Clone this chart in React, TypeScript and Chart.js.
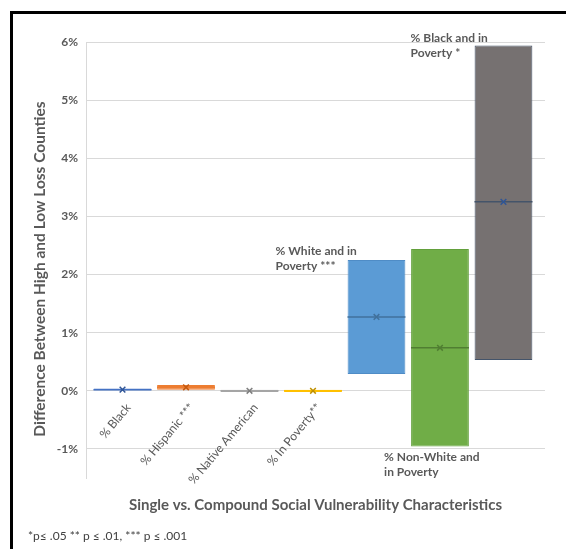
import React, { useEffect, useRef } from 'react';
import { Chart, registerables } from 'chart.js';

Chart.register(...registerables);

// ---- Data ----
const categories = [
  '% Black',
  '% Hispanic ***',
  '% Native American',
  '% In Poverty**',
  '% White and in Poverty ***',
  '% Non-White and in Poverty',
  '% Black and in Poverty *',
];
const tickLabels = ['% Black', '% Hispanic ***', '% Native American', '% In Poverty**', '', '', ''];
const boxLow = [0.0, 0.02, -0.02, -0.02, 0.29, -0.96, 0.53];
const boxHigh = [0.04, 0.1, 0.02, 0.02, 2.25, 2.44, 5.94];
const medians = [0.02, 0.06, 0.0, 0.0, 1.27, 0.74, 3.25];
const means = [0.02, 0.06, 0.0, 0.0, 1.27, 0.74, 3.25];
const annotationLines: (string[] | null)[] = [
  null,
  null,
  null,
  null,
  ['% White and in', 'Poverty ***'],
  ['% Non-White and', 'in Poverty'],
  ['% Black and in', 'Poverty *'],
];
const yTickValues = [-1, 0, 1, 2, 3, 4, 5, 6];
const yMin = -1.5;
const yMax = 6;
const xTitle = 'Single vs. Compound Social Vulnerability Characteristics';
const yTitle = 'Difference Between High and Low Loss Counties';
const footnote = '*p\u2264 .05 ** p \u2264 .01, *** p \u2264 .001';

// ---- Styles ----
const boxFill = ['#4472C4', '#ED7D31', '#A5A5A5', '#FFC000', '#5B9BD5', '#70AD47', '#767171'];
const boxEdge = ['#4472C4', '#ED7D31', '#A5A5A5', '#FFC000', '#4F8CC6', '#63A03C', '#44546A'];
const medianColor = ['#4472C4', '#ED7D31', '#A5A5A5', '#FFC000', '#41719C', '#507E32', '#44546A'];
const meanColor = ['#2F5597', '#C55A11', '#7F7F7F', '#BF9000', '#41719C', '#507E32', '#2F5597'];
const textGray = '#595959';
const gridGray = '#D9D9D9';
const FONT = 'Lato, "Open Sans", sans-serif';

const labelPlugin = {
  id: 'customText',
  afterDatasetsDraw(chart: any) {
    const { ctx, chartArea } = chart;
    const meta = chart.getDatasetMeta(0);
    ctx.save();
    ctx.fillStyle = textGray;
    ctx.font = `bold 12px ${FONT}`;
    ctx.textBaseline = 'middle';
    ctx.textAlign = 'left';
    annotationLines.forEach((lines, i) => {
      if (!lines) return;
      const el = meta.data[i];
      const left = el.x - el.width / 2;
      const top = Math.min(el.y, el.base);
      const bottom = Math.max(el.y, el.base);
      let x = left;
      let y0 = top;
      if (i === 4) { x = left - 72; y0 = top - 9; }
      if (i === 5) { x = left - 27; y0 = bottom + 11; }
      if (i === 6) { x = left - 64; y0 = top - 7; }
      lines.forEach((t, k) => ctx.fillText(t, x, y0 + k * 15));
    });
    // axis titles
    ctx.font = `bold 15px ${FONT}`;
    ctx.textAlign = 'center';
    ctx.fillText(xTitle, (chartArea.left + chartArea.right) / 2, chartArea.bottom + 27);
    ctx.font = `bold 15.5px ${FONT}`;
    ctx.translate(chartArea.left - 46, (chartArea.top + chartArea.bottom) / 2 + 9);
    ctx.rotate(-Math.PI / 2);
    ctx.fillText(yTitle, 0, 0);
    ctx.restore();
  },
};

function BoxChart() {
  const ref = useRef<HTMLCanvasElement | null>(null);
  useEffect(() => {
    if (!ref.current) return;
    const chart = new Chart(ref.current, {
      type: 'bar',
      data: {
        labels: categories,
        datasets: [
          {
            type: 'bar',
            data: boxLow.map((lo, i) => ({ x: i, y: [lo, boxHigh[i]] })) as any,
            backgroundColor: boxFill,
            borderColor: boxEdge,
            borderWidth: 1,
            borderSkipped: false,
            barPercentage: 0.91,
            categoryPercentage: 1,
            order: 3,
          } as any,
          {
            type: 'line',
            data: medians.map((v, i) => ({ x: i, y: v })),
            showLine: false,
            pointStyle: 'line',
            pointRadius: 29,
            pointBorderWidth: 1.5,
            pointBorderColor: medianColor,
            pointBackgroundColor: medianColor,
            order: 2,
          } as any,
          {
            type: 'line',
            data: means.map((v, i) => ({ x: i, y: v })),
            showLine: false,
            pointStyle: 'crossRot',
            pointRadius: 4,
            pointBorderWidth: 1.5,
            pointBorderColor: meanColor,
            pointBackgroundColor: meanColor,
            order: 1,
          } as any,
        ],
      },
      options: {
        animation: false,
        responsive: false,
        maintainAspectRatio: false,
        layout: { autoPadding: false, padding: { top: 28, right: 21, bottom: 71, left: 0 } },
        plugins: { legend: { display: false }, tooltip: { enabled: false }, title: { display: false } },
        scales: {
          x: {
            type: 'linear',
            min: -0.575,
            max: 6.654,
            offset: false,
            bounds: 'data',
            position: { y: 0 } as any,
            afterBuildTicks: (s: any) => { s.ticks = categories.map((_, i) => ({ value: i })); },
            grid: { display: false },
            border: { display: false },
            ticks: {
              autoSkip: false,
              minRotation: 50,
              maxRotation: 50,
              padding: 2,
              labelOffset: 6,
              color: textGray,
              font: { family: FONT, size: 12 },
              callback: (v: any) => tickLabels[Math.round(v)] ?? '',
            },
          },
          y: {
            type: 'linear',
            min: yMin,
            max: yMax,
            afterFit: (s: any) => { s.width = 73; },
            afterBuildTicks: (s: any) => { s.ticks = yTickValues.map((v) => ({ value: v })); },
            grid: { color: gridGray, drawTicks: false, lineWidth: 1 },
            border: { display: true, color: gridGray },
            ticks: {
              padding: 8,
              color: textGray,
              font: { family: FONT, size: 12, weight: 'bold' },
              callback: (v: any) => `${v}%`,
            },
          },
        },
      },
      plugins: [labelPlugin],
    });
    return () => chart.destroy();
  }, []);
  return <canvas ref={ref} width={553} height={535} style={{ display: 'block', width: 553, height: 535 }} />;
}

export default function App() {
  return (
    <div style={{ position: 'fixed', left: 0, top: 0, width: 566, height: 549, background: '#fff', overflow: 'hidden' }}>
      <div
        style={{
          position: 'absolute',
          left: 10,
          top: 11,
          width: 556,
          height: 538,
          boxSizing: 'border-box',
          borderLeft: '3px solid #000',
          borderTop: '3px solid #000',
        }}
      >
        <BoxChart />
      </div>
      <div
        style={{
          position: 'absolute',
          left: 28,
          top: 528,
          fontFamily: FONT,
          fontSize: 12,
          color: '#404040',
          whiteSpace: 'nowrap',
        }}
      >
        {footnote}
      </div>
    </div>
  );
}
